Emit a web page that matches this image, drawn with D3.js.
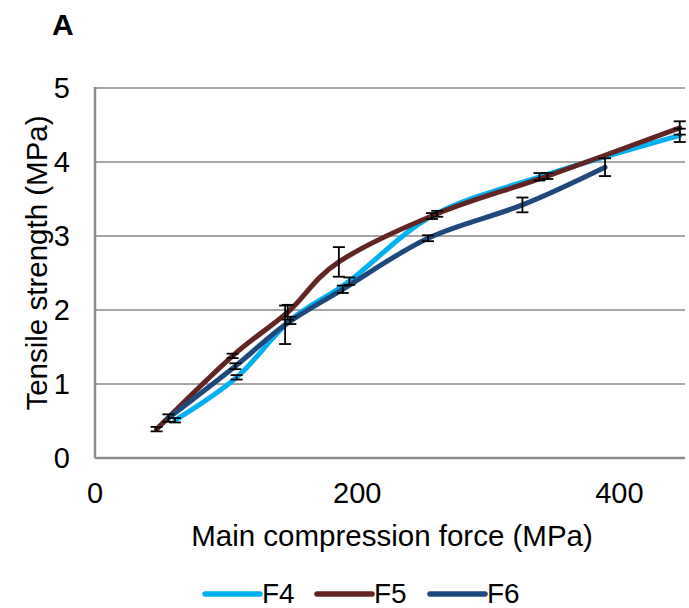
<!DOCTYPE html>
<html>
<head>
<meta charset="utf-8">
<script src="https://cdn.jsdelivr.net/npm/d3@7"></script>
<style>
  body { margin: 0; background: #fff; }
  svg { display: block; font-family: "Liberation Sans", Arial, sans-serif; }
</style>
</head>
<body>
<script>
// Data (force in MPa, tensile strength in MPa, error bar half-width)
let series = ["F4", "F5", "F6"];
let colors = ["#00B0F0", "#632523", "#1F497D"];

let f4Force = [61, 108, 149, 194, 257, 339, 446];
let f4Strength = [0.51, 1.09, 1.86, 2.39, 3.27, 3.80, 4.36];
let f4Err = [0.03, 0.03, 0.05, 0.05, 0.04, 0.05, 0.09];

let f5Force = [47, 105, 147, 186, 261, 345, 446];
let f5Strength = [0.39, 1.38, 1.97, 2.65, 3.30, 3.81, 4.46];
let f5Err = [0.03, 0.03, 0.10, 0.20, 0.04, 0.04, 0.09];

let f6Force = [56, 107, 145, 189, 254, 326, 389];
let f6Strength = [0.54, 1.24, 1.80, 2.28, 2.97, 3.42, 3.93];
let f6Err = [0.05, 0.04, 0.26, 0.05, 0.04, 0.10, 0.12];

let xTicks = [0, 200, 400];
let yTicks = [0, 1, 2, 3, 4, 5];

let table = [
    [f4Force, f4Strength, f4Err],
    [f5Force, f5Strength, f5Err],
    [f6Force, f6Strength, f6Err]
].map(([xs, ys, es], i) => ({
    name: series[i],
    color: colors[i],
    points: xs.map((x, j) => ({ x, y: ys[j], e: es[j] }))
}));

let width = 689, height = 608;
let plot = { left: 95, right: 685, top: 88, bottom: 458 };

let x = d3.scaleLinear([0, 450], [plot.left, plot.right]);
let y = d3.scaleLinear([0, 5], [plot.bottom, plot.top]);

let svg = d3.select("body")
    .append("svg")
    .attr("width", width)
    .attr("height", height);

// Panel letter
svg.append("text")
    .attr("x", 52)
    .attr("y", 35)
    .style("font-size", "30px")
    .style("font-weight", "bold")
    .text("A");

// Gridlines
svg.append("g")
    .selectAll("line")
    .data(yTicks.filter(d => d > 0))
    .enter()
    .append("line")
    .attr("x1", plot.left)
    .attr("x2", plot.right)
    .attr("y1", d => y(d))
    .attr("y2", d => y(d))
    .attr("stroke", "#a6a6a6")
    .attr("stroke-width", 2);

// Axis lines
svg.append("line")
    .attr("x1", plot.left).attr("x2", plot.left)
    .attr("y1", plot.top - 1).attr("y2", plot.bottom)
    .attr("stroke", "#8c8c8c").attr("stroke-width", 2.5);
svg.append("line")
    .attr("x1", plot.left).attr("x2", plot.right)
    .attr("y1", plot.bottom).attr("y2", plot.bottom)
    .attr("stroke", "#8c8c8c").attr("stroke-width", 2.5);

// Tick labels
svg.append("g")
    .selectAll("text")
    .data(yTicks)
    .enter()
    .append("text")
    .attr("x", 70)
    .attr("y", d => y(d) + 10)
    .attr("text-anchor", "end")
    .style("font-size", "29px")
    .text(d => d);

svg.append("g")
    .selectAll("text")
    .data(xTicks)
    .enter()
    .append("text")
    .attr("x", d => x(d))
    .attr("y", 503)
    .attr("text-anchor", "middle")
    .style("font-size", "29px")
    .text(d => d);

// Axis titles
svg.append("text")
    .attr("x", 392)
    .attr("y", 546)
    .attr("text-anchor", "middle")
    .style("font-size", "29.5px")
    .text("Main compression force (MPa)");

svg.append("text")
    .attr("transform", "translate(47, 263) rotate(-90)")
    .attr("text-anchor", "middle")
    .style("font-size", "29.5px")
    .text("Tensile strength (MPa)");

// Smoothed lines, like Excel's smoothing
let line = d3.line()
    .x(d => x(d.x))
    .y(d => y(d.y))
    .curve(d3.curveCardinal.tension(0));

svg.append("g")
    .selectAll("path")
    .data(table)
    .enter()
    .append("path")
    .attr("d", d => line(d.points))
    .attr("fill", "none")
    .attr("stroke", d => d.color)
    .attr("stroke-width", 5)
    .attr("stroke-linecap", "round")
    .attr("stroke-linejoin", "round");

// Error bars
let bars = svg.append("g")
    .selectAll("g")
    .data(table.flatMap(s => s.points))
    .enter()
    .append("g")
    .attr("stroke", "#000")
    .attr("stroke-width", 1.8);

bars.append("line")
    .attr("x1", d => x(d.x)).attr("x2", d => x(d.x))
    .attr("y1", d => y(d.y - d.e)).attr("y2", d => y(d.y + d.e));
bars.append("line")
    .attr("x1", d => x(d.x) - 6).attr("x2", d => x(d.x) + 6)
    .attr("y1", d => y(d.y + d.e)).attr("y2", d => y(d.y + d.e));
bars.append("line")
    .attr("x1", d => x(d.x) - 6).attr("x2", d => x(d.x) + 6)
    .attr("y1", d => y(d.y - d.e)).attr("y2", d => y(d.y - d.e));

// Legend
let legendX = [205, 317, 430];
let legend = svg.append("g")
    .selectAll("g")
    .data(table)
    .enter()
    .append("g")
    .attr("transform", (d, i) => `translate(${legendX[i]}, 594)`);

legend.append("line")
    .attr("x1", 0).attr("x2", 55)
    .attr("stroke", d => d.color)
    .attr("stroke-width", 5.5)
    .attr("stroke-linecap", "round");

legend.append("text")
    .attr("x", 57)
    .attr("y", 9)
    .style("font-size", "28px")
    .text(d => d.name);
</script>
</body>
</html>
